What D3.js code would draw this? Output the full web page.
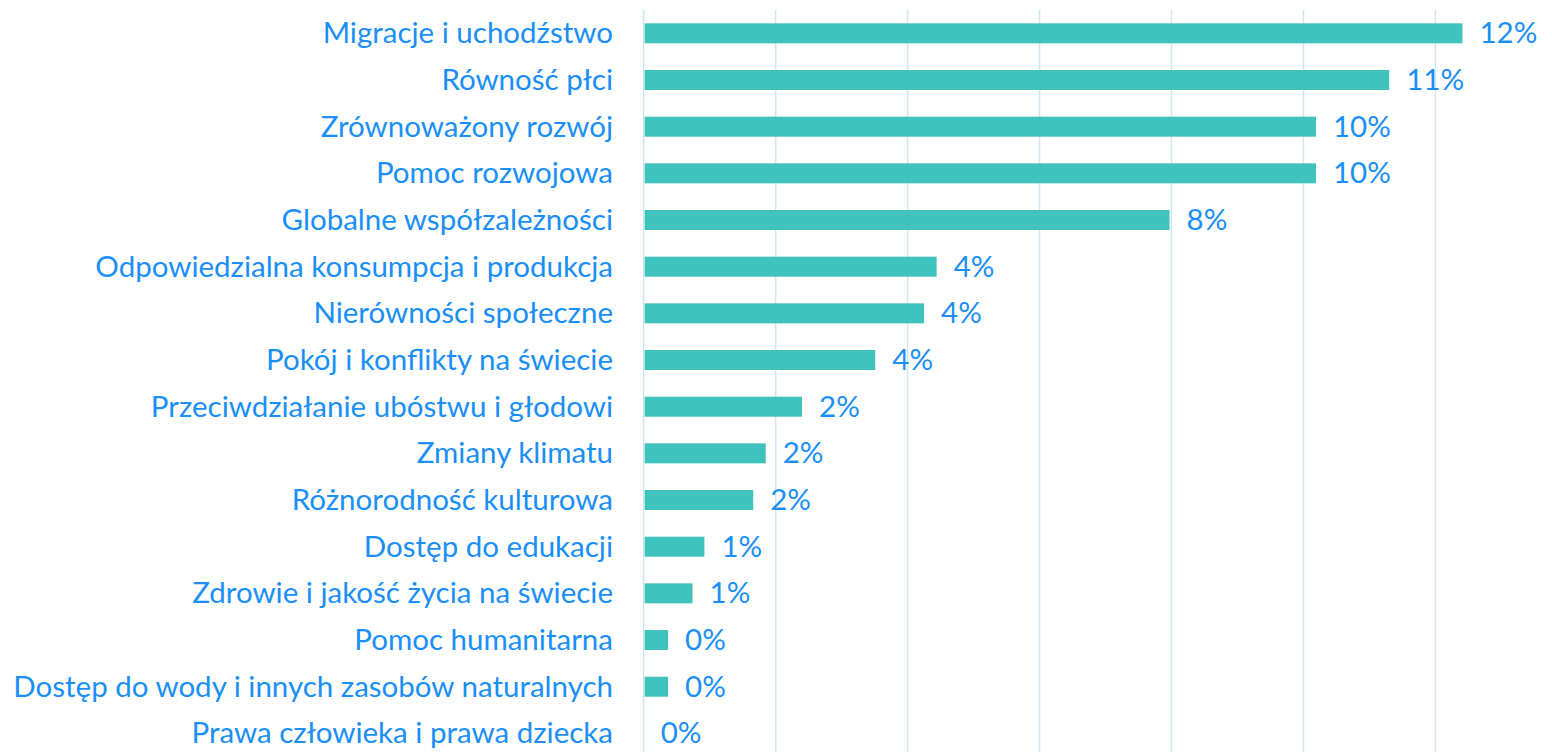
<!DOCTYPE html>
<html>
<head>
<meta charset="utf-8">
<script src="https://cdn.jsdelivr.net/npm/d3@7"></script>
<style>
  body { margin: 0; background: #fff; }
  text { font-family: Lato, "Open Sans", sans-serif; }
</style>
</head>
<body>
<svg id="chart"></svg>
<script>
// Chart data
const categories = [
  "Migracje i uchodźstwo",
  "Równość płci",
  "Zrównoważony rozwój",
  "Pomoc rozwojowa",
  "Globalne współzależności",
  "Odpowiedzialna konsumpcja i produkcja",
  "Nierówności społeczne",
  "Pokój i konflikty na świecie",
  "Przeciwdziałanie ubóstwu i głodowi",
  "Zmiany klimatu",
  "Różnorodność kulturowa",
  "Dostęp do edukacji",
  "Zdrowie i jakość życia na świecie",
  "Pomoc humanitarna",
  "Dostęp do wody i innych zasobów naturalnych",
  "Prawa człowieka i prawa dziecka"
];
const values = [12.41, 11.30, 10.19, 10.19, 7.97, 4.44, 4.25, 3.51, 2.40, 1.85, 1.66, 0.92, 0.74, 0.37, 0.37, 0];
const xTicks = [0, 2, 4, 6, 8, 10, 12];

const data = categories.map((c, i) => ({ cat: c, value: values[i] }));

const W = 1560, H = 752;
const textColor = "#1A8FF7";
const barColor = "#41C3BD";
const gridColor = "#CFE5FA";
const fontSize = 29.5;

const svg = d3.select("#chart").attr("width", W).attr("height", H);

const x = d3.scaleLinear().domain([0, 12]).range([643.7, 1435.4]);

const y = d3
  .scaleBand()
  .domain(categories)
  .range([10, 756.7])
  .paddingInner(0.5714)
  .paddingOuter(0.2857);

// vertical gridlines
svg
  .append("g")
  .selectAll("line")
  .data(xTicks)
  .enter()
  .append("line")
  .attr("x1", (d) => x(d))
  .attr("x2", (d) => x(d))
  .attr("y1", 10)
  .attr("y2", H)
  .attr("stroke", gridColor)
  .attr("stroke-width", 1.5);

// bars
svg
  .append("g")
  .selectAll("rect")
  .data(data)
  .enter()
  .append("rect")
  .attr("x", x(0) + 1)
  .attr("y", (d) => y(d.cat))
  .attr("width", (d) => Math.max(0, x(d.value) - x(0) - 1))
  .attr("height", y.bandwidth())
  .attr("fill", barColor);

// category labels
svg
  .append("g")
  .selectAll("text")
  .data(data)
  .enter()
  .append("text")
  .attr("x", 613)
  .attr("y", (d) => y(d.cat) + y.bandwidth() / 2)
  .attr("dy", "0.34em")
  .attr("text-anchor", "end")
  .attr("font-size", fontSize)
  .attr("fill", textColor)
  .text((d) => d.cat);

// value labels
svg
  .append("g")
  .selectAll("text")
  .data(data)
  .enter()
  .append("text")
  .attr("x", (d) => x(d.value) + 17)
  .attr("y", (d) => y(d.cat) + y.bandwidth() / 2)
  .attr("dy", "0.34em")
  .attr("font-size", fontSize)
  .attr("fill", textColor)
  .text((d) => Math.round(d.value) + "%");
</script>
</body>
</html>
